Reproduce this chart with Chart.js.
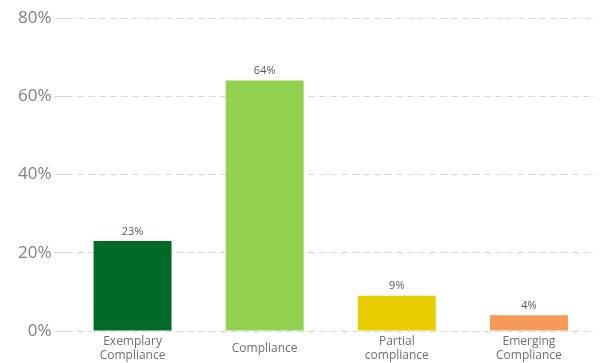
<!DOCTYPE html>
<html>
<head>
<meta charset="utf-8">
<script src="https://cdn.jsdelivr.net/npm/chart.js@4/dist/chart.umd.min.js"></script>
<style>
  html, body { margin: 0; padding: 0; background: #fff; }
  #wrap { width: 601px; height: 363px; }
</style>
</head>
<body>
<div id="wrap"><canvas id="barChart"></canvas></div>
<script>
const categories = [['Exemplary', 'Compliance'], 'Compliance', ['Partial', 'compliance'], ['Emerging', 'Compliance']];
const shares = [23, 64, 9, 4];
const barColors = ['#006a27', '#92d050', '#e8cd00', '#f59b55'];
const yTicks = [0, 20, 40, 60, 80];

// draw the percentage above each bar
const valueLabels = {
  id: 'valueLabels',
  afterDatasetsDraw(chart) {
    const ctx = chart.ctx;
    const meta = chart.getDatasetMeta(0);
    ctx.save();
    ctx.font = '11px "Open Sans", sans-serif';
    ctx.fillStyle = '#595959';
    ctx.textAlign = 'center';
    ctx.textBaseline = 'bottom';
    meta.data.forEach((bar, i) => {
      ctx.fillText(shares[i] + '%', bar.x, bar.y - 4);
    });
    ctx.restore();
  }
};

const barCtx = document.getElementById('barChart').getContext('2d');
const barChart = new Chart(barCtx, {
  type: 'bar',
  data: {
    labels: categories,
    datasets: [{
      data: shares,
      backgroundColor: barColors,
      barPercentage: 0.59,
      categoryPercentage: 1
    }]
  },
  options: {
    responsive: true,
    maintainAspectRatio: false,
    animation: false,
    layout: { padding: { top: 18, right: 6, left: 15, bottom: 0 } },
    plugins: { legend: { display: false }, tooltip: { enabled: false } },
    scales: {
      x: {
        grid: { display: false, drawTicks: false, tickLength: 0 },
        border: { display: false },
        afterFit(scale) { scale.height = 32; },
        ticks: {
          color: '#6f6f6f',
          font: { family: '"Open Sans", sans-serif', size: 12, lineHeight: 1.15 },
          padding: 11,
          crossAlign: 'center',
          maxRotation: 0
        }
      },
      y: {
        min: 0,
        max: 80,
        afterBuildTicks(axis) {
          axis.ticks = yTicks.map(v => ({ value: v }));
        },
        border: { display: false, dash: [7, 4] },
        grid: { color: '#d9d9d9', tickLength: 12, lineWidth: 1 },
        ticks: {
          color: '#808080',
          padding: 3,
          font: { family: '"Open Sans", sans-serif', size: 17 },
          callback: v => v + '%'
        }
      }
    }
  },
  plugins: [valueLabels]
});
</script>
</body>
</html>
